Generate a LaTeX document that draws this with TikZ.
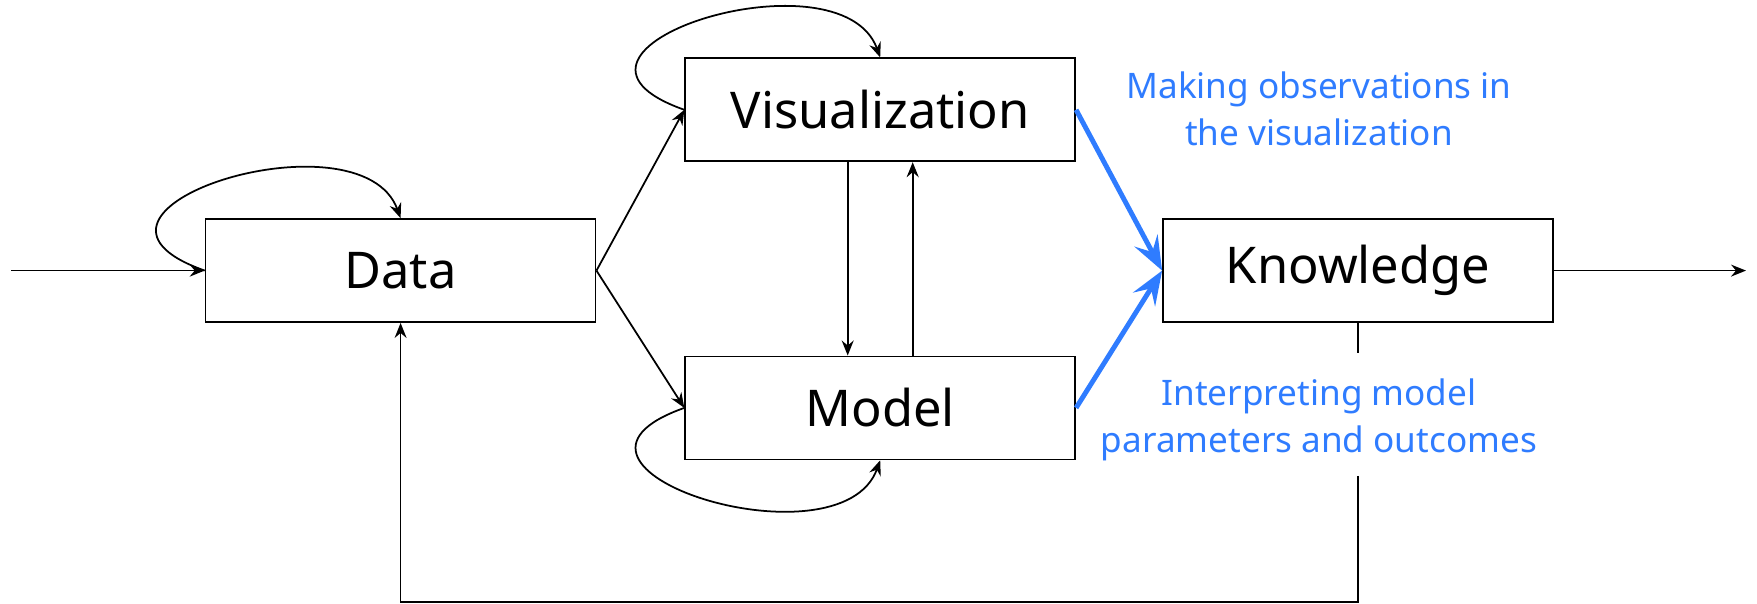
\documentclass[tikz,border=0pt]{standalone}
\usepackage{fontspec}
\setmainfont{Noto Sans}
\usetikzlibrary{arrows.meta, calc, positioning}
\definecolor{insightblue}{HTML}{2F7CFF}
\tikzset{
  stagebox/.style={draw, line width=0.5pt, rectangle, minimum width=3.9cm, minimum height=1.03cm, inner sep=0pt, font=\fontsize{14.4}{17}\selectfont},
  flowarrow/.style={line width=0.5pt, -{Stealth[length=1.5mm,width=1.2mm,inset=0.5mm]}},
  insightarrow/.style={insightblue, line width=1.4pt, -{Stealth[length=3.4mm,width=2.6mm,inset=1.3mm]}},
  insightnote/.style={insightblue, align=center, font=\fontsize{10}{13.3}\selectfont}
}
\newcommand\LoopAbove[1]{%
\draw[flowarrow] (#1.west) .. controls +(-1.7,0.6) and +(-0.4,1.1) .. (#1.north);
}
\newcommand\LoopBelow[1]{%
\draw[flowarrow] (#1.west) .. controls +(-1.7,-0.6) and +(-0.4,-1.1) .. (#1.south);
}

\begin{document}
\begin{tikzpicture}
  \useasboundingbox (0,0) rectangle (17.57,-6.04);

  \node[stagebox] (Data) at (4.006,-2.706) {Data};
  \node[stagebox] (Vis) at (8.802,-1.098) {Visualization};
  \node[stagebox] (Model) at (8.802,-4.079) {Model};
  \node[stagebox] (Knowledge) at (13.58,-2.706) {Knowledge};

  \node[insightnote] (observe) at (13.19,-1.09) {Making observations in\\the visualization};
  \node[insightnote] (interpret) at (13.19,-4.20) {Interpreting model\\parameters and outcomes};

  \coordinate (src) at (0.11,-2.706);
  \coordinate (sink) at (17.46,-2.706);
  \coordinate (gaptop) at (13.58,-3.53);
  \coordinate (gapbot) at (13.58,-4.76);
  \coordinate (fbcorner) at (13.58,-6.017);

  % in and out
  \draw[flowarrow] (src) -- (Data.west);
  \draw[flowarrow] (Knowledge.east) -- (sink);

  \LoopAbove{Data}
  \LoopAbove{Vis}
  \LoopBelow{Model}

  \draw[flowarrow] (Data.east) -- (Vis.west);
  \draw[flowarrow] (Data.east) -- (Model.west);
  \draw[flowarrow] ([xshift=-0.325cm]Vis.south) -- ([xshift=-0.325cm]Model.north);
  \draw[flowarrow] ([xshift=0.325cm]Model.north) -- ([xshift=0.325cm]Vis.south);

  \draw[insightarrow] (Vis.east) -- (Knowledge.west);
  \draw[insightarrow] (Model.east) -- (Knowledge.west);

  % feedback
  \draw[line width=0.5pt] (Knowledge.south) -- (gaptop);
  \draw[flowarrow] (gapbot) -- (fbcorner) -| (Data.south);
\end{tikzpicture}
\end{document}
